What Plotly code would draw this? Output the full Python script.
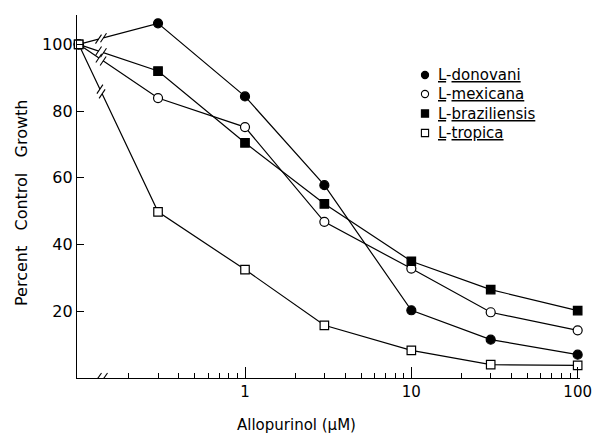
import math
import plotly.graph_objects as go

# ---------------- data ----------------
conc = [0.1, 0.3, 1, 3, 10, 30, 100]          # 0.1 = control (axis origin)
donovani = [100, 106.3, 84.4, 57.8, 20.3, 11.5, 7.0]
mexicana = [100, 83.9, 75.2, 46.8, 32.8, 19.7, 14.3]
braziliensis = [100, 92.0, 70.5, 52.2, 35.0, 26.5, 20.2]
tropica = [100, 49.8, 32.5, 15.8, 8.3, 4.0, 3.8]

series_names = ["donovani", "mexicana", "braziliensis", "tropica"]
x_tickvals = [1, 10, 100]
x_ticktext = ["1", "10", "100"]
x_minor = [0.2, 0.3, 0.4, 0.5, 0.6, 0.7, 0.8, 0.9,
           2, 3, 4, 5, 6, 7, 8, 9,
           20, 30, 40, 50, 60, 70, 80, 90]
y_tickvals = [20, 40, 60, 80, 100]

# ---------------- layout constants ----------------
OFF = 0                      # body margin removed by post_script below
W, H = 594 - OFF, 437 - OFF
ML, MR, MT, MB = 77 - OFF, 14, 15 - OFF, 59
PW, PH = W - ML - MR, H - MT - MB
XR = [-1.01, 2.014]
YR = [0, 108.8]
FONT = "DejaVu Sans, Verdana, sans-serif"


def d2p(x, y):
    px = OFF + ML + (math.log10(x) - XR[0]) / (XR[1] - XR[0]) * PW
    py = OFF + MT + PH - (y - YR[0]) / (YR[1] - YR[0]) * PH
    return px, py


def p2d(px, py):
    x = 10 ** (XR[0] + (px - OFF - ML) / PW * (XR[1] - XR[0]))
    y = YR[0] + (OFF + MT + PH - py) / PH * (YR[1] - YR[0])
    return x, y


def px2paper(px, py):
    return (px - OFF - ML) / PW, (OFF + MT + PH - py) / PH


fig = go.Figure()

styles = {
    "donovani": dict(symbol="circle", color="black", size=9),
    "mexicana": dict(symbol="circle", color="white", size=9),
    "braziliensis": dict(symbol="square", color="black", size=8.5),
    "tropica": dict(symbol="square", color="white", size=8.5),
}
data = {"donovani": donovani, "mexicana": mexicana,
        "braziliensis": braziliensis, "tropica": tropica}

for name in series_names:
    st = styles[name]
    fig.add_trace(go.Scatter(
        x=conc, y=data[name], mode="lines+markers", showlegend=False,
        line=dict(color="black", width=1.2),
        marker=dict(symbol=st["symbol"], size=st["size"], color=st["color"],
                    line=dict(color="black", width=1.2)),
        cliponaxis=False,
    ))


# ---------------- axis-break marks ----------------
def seg(p0, p1, color="black", width=1.1):
    a = p2d(*p0)
    b = p2d(*p1)
    fig.add_trace(go.Scatter(x=[a[0], b[0]], y=[a[1], b[1]], mode="lines",
                             line=dict(color=color, width=width),
                             showlegend=False, hoverinfo="skip", cliponaxis=False))


BREAK_PX = 101
for name in series_names:
    vals = data[name]
    p0 = d2p(conc[0], vals[0])
    p1 = d2p(conc[1], vals[1])
    dx, dy = p1[0] - p0[0], p1[1] - p0[1]
    L = math.hypot(dx, dy)
    ux, uy = dx / L, dy / L
    t = (BREAK_PX - p0[0]) / dx
    cx, cy = p0[0] + t * dx, p0[1] + t * dy
    seg((cx - 2.5 * ux, cy - 2.5 * uy), (cx + 2.5 * ux, cy + 2.5 * uy), "white", 3)
    sx, sy = 3.0, -4.5
    for k in (-2.6, 2.6):
        mx, my = cx + k * ux, cy + k * uy
        seg((mx - sx, my - sy), (mx + sx, my + sy))

# x-axis break
for off in (-3, 3):
    mx, my = 101 + off, OFF + MT + PH
    seg((mx - 3.5, my + 5), (mx + 3.5, my - 5))

# ---------------- legend (manual) ----------------
leg_rows = [75, 94, 113.5, 133]
leg_sym_x = 425
leg_txt_x = 436
for name, ry in zip(series_names, leg_rows):
    st = styles[name]
    r = 3.6
    x0, y0 = px2paper(leg_sym_x - r, ry + r)
    x1, y1 = px2paper(leg_sym_x + r, ry - r)
    fig.add_shape(type="circle" if st["symbol"] == "circle" else "rect",
                  xref="paper", yref="paper", x0=x0, y0=y0, x1=x1, y1=y1,
                  fillcolor=st["color"], line=dict(color="black", width=1.1))
    tx, ty = px2paper(leg_txt_x, ry)
    fig.add_annotation(
        xref="paper", yref="paper", x=tx, y=ty, xanchor="left", yanchor="middle",
        showarrow=False,
        text=("<span style='text-decoration:underline'>L</span>-"
              f"<span style='text-decoration:underline'>{name}</span>"),
        font=dict(family=FONT, size=15, color="black"),
    )

# ---------------- axis titles ----------------
tx, ty = px2paper(296, 425)
fig.add_annotation(xref="paper", yref="paper", x=tx, y=ty, showarrow=False,
                   xanchor="center", yanchor="middle",
                   text="Allopurinol (μM)",
                   font=dict(family=FONT, size=15, color="black"))
tx, ty = px2paper(21, 203)
fig.add_annotation(xref="paper", yref="paper", x=tx, y=ty, showarrow=False,
                   xanchor="center", yanchor="middle", textangle=-90,
                   text="Percent\u00a0\u00a0 Control\u00a0\u00a0 Growth",
                   font=dict(family=FONT, size=16, color="black"))

fig.update_layout(
    width=W, height=H,
    margin=dict(l=ML, r=MR, t=MT, b=MB, autoexpand=False),
    paper_bgcolor="white", plot_bgcolor="white",
    showlegend=False,
    font=dict(family=FONT, size=16, color="black"),
    xaxis=dict(type="log", range=XR, showgrid=False, zeroline=False,
               automargin=False, ticklabeloverflow="allow",
               showline=True, linecolor="black", linewidth=1.3,
               ticks="inside", ticklen=11, tickwidth=1.2, tickcolor="black",
               tickvals=x_tickvals, ticktext=x_ticktext,
               tickfont=dict(family=FONT, size=15, color="black"),
               minor=dict(ticks="inside", ticklen=5, tickwidth=1.1,
                          tickcolor="black", tickvals=x_minor, showgrid=False)),
    yaxis=dict(range=YR, showgrid=False, zeroline=False,
               automargin=False,
               showline=True, linecolor="black", linewidth=1.3,
               ticks="inside", ticklen=7, tickwidth=1.2, tickcolor="black",
               tickvals=y_tickvals,
               tickfont=dict(family=FONT, size=16, color="black")),
)

fig.write_html(
    "out.html",
    config={"displayModeBar": False},
    post_script="document.body.style.margin='0';document.body.style.overflow='hidden';",
)
